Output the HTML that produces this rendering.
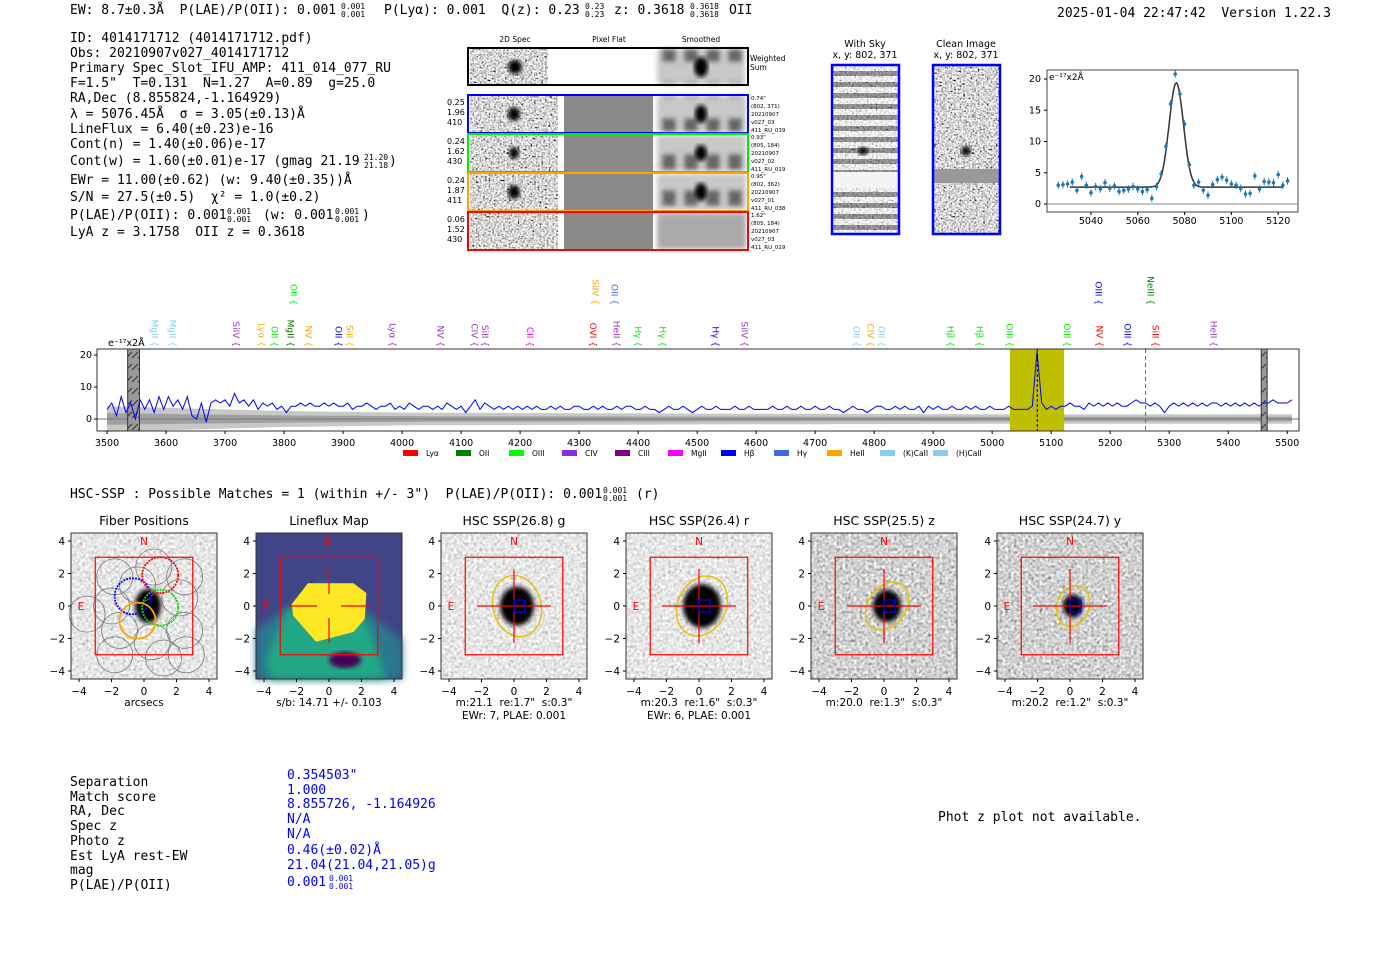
<!DOCTYPE html>
<html><head><meta charset="utf-8">
<style>
html,body{margin:0;padding:0;background:#fff;}
svg{display:block;}
text{white-space:pre;}
.m{font-family:"DejaVu Sans Mono","Liberation Mono",monospace;font-size:13px;fill:#000;}
.s{font-family:"DejaVu Sans","Liberation Sans",sans-serif;}
.sup{font-size:8px;}
</style></head>
<body>
<svg id="root" width="1400" height="953" viewBox="0 0 1400 953" xmlns="http://www.w3.org/2000/svg" xml:space="preserve">
<defs>
<filter id="nHi" x="0" y="0" width="100%" height="100%"><feTurbulence type="fractalNoise" baseFrequency="0.55" numOctaves="1" seed="3"/><feColorMatrix type="matrix" values="0.33 0.33 0.33 0 0 0.33 0.33 0.33 0 0 0.33 0.33 0.33 0 0 0 0 0 0 1"/><feComponentTransfer><feFuncR type="linear" slope="4" intercept="-1.3"/><feFuncG type="linear" slope="4" intercept="-1.3"/><feFuncB type="linear" slope="4" intercept="-1.3"/></feComponentTransfer></filter>
<filter id="nLo" x="0" y="0" width="100%" height="100%"><feTurbulence type="fractalNoise" baseFrequency="0.35" numOctaves="1" seed="7"/><feColorMatrix type="matrix" values="0.33 0.33 0.33 0 0 0.33 0.33 0.33 0 0 0.33 0.33 0.33 0 0 0 0 0 0 1"/><feComponentTransfer><feFuncR type="linear" slope="1.6" intercept="0"/><feFuncG type="linear" slope="1.6" intercept="0"/><feFuncB type="linear" slope="1.6" intercept="0"/></feComponentTransfer></filter>
<filter id="nMid" x="0" y="0" width="100%" height="100%"><feTurbulence type="fractalNoise" baseFrequency="0.35" numOctaves="1" seed="11"/><feColorMatrix type="matrix" values="0.33 0.33 0.33 0 0 0.33 0.33 0.33 0 0 0.33 0.33 0.33 0 0 0 0 0 0 1"/><feComponentTransfer><feFuncR type="linear" slope="2" intercept="-0.35"/><feFuncG type="linear" slope="2" intercept="-0.35"/><feFuncB type="linear" slope="2" intercept="-0.35"/></feComponentTransfer></filter>
<filter id="blur2"><feGaussianBlur stdDeviation="2.5"/></filter>
<filter id="blur4"><feGaussianBlur stdDeviation="4"/></filter>
<pattern id="stripes" width="10" height="11" patternUnits="userSpaceOnUse"><rect width="10" height="11" fill="#fff"/><rect y="5" width="10" height="5" fill="#555"/></pattern>
<pattern id="smooth" width="22" height="36" patternUnits="userSpaceOnUse"><rect width="22" height="36" fill="#c8c8c8"/><rect x="2" y="10" width="14" height="16" fill="#666"/></pattern>
<pattern id="hatch" width="6" height="12" patternUnits="userSpaceOnUse"><rect width="6" height="12" fill="#999"/><line x1="0" y1="10" x2="6" y2="4" stroke="#333" stroke-width="1"/></pattern>
</defs>

<g>
<text class="m" x="70" y="14">EW: 8.7±0.3Å  P(LAE)/P(OII): 0.001</text>
<text class="m sup" x="341" y="9">0.001</text><text class="m sup" x="341" y="17">0.001</text>
<text class="m" x="384" y="14">P(Lyα): 0.001  Q(z): 0.23</text>
<text class="m sup" x="585" y="9">0.23</text><text class="m sup" x="585" y="17">0.23</text>
<text class="m" x="614" y="14">z: 0.3618</text>
<text class="m sup" x="690" y="9">0.3618</text><text class="m sup" x="690" y="17">0.3618</text>
<text class="m" x="729" y="14">OII</text>
<text class="m" x="1057" y="17">2025-01-04 22:47:42  Version 1.22.3</text>
</g>

<g>
<text class="m" x="70" y="42">ID: 4014171712 (4014171712.pdf)</text>
<text class="m" x="70" y="57">Obs: 20210907v027_4014171712</text>
<text class="m" x="70" y="72">Primary Spec_Slot_IFU_AMP: 411_014_077_RU</text>
<text class="m" x="70" y="87">F=1.5"  T=0.131  N=1.27  A=0.89  g=25.0</text>
<text class="m" x="70" y="102">RA,Dec (8.855824,-1.164929)</text>
<text class="m" x="70" y="118">λ = 5076.45Å  σ = 3.05(±0.13)Å</text>
<text class="m" x="70" y="133">LineFlux = 6.40(±0.23)e-16</text>
<text class="m" x="70" y="148">Cont(n) = 1.40(±0.06)e-17</text>
<text class="m" x="70" y="165">Cont(w) = 1.60(±0.01)e-17 (gmag 21.19</text>
<text class="m sup" x="364" y="160">21.20</text><text class="m sup" x="364" y="168">21.18</text>
<text class="m" x="389" y="165">)</text>
<text class="m" x="70" y="184">EWr = 11.00(±0.62) (w: 9.40(±0.35))Å</text>
<text class="m" x="70" y="201">S/N = 27.5(±0.5)  χ² = 1.0(±0.2)</text>
<text class="m" x="70" y="219">P(LAE)/P(OII): 0.001</text>
<text class="m sup" x="227" y="214">0.001</text><text class="m sup" x="227" y="222">0.001</text>
<text class="m" x="263" y="219">(w: 0.001</text>
<text class="m sup" x="335" y="214">0.001</text><text class="m sup" x="335" y="222">0.001</text>
<text class="m" x="362" y="219">)</text>
<text class="m" x="70" y="236">LyA z = 3.1758  OII z = 0.3618</text>
</g>

<g class="s" font-size="7.5">
<text x="515" y="42" text-anchor="middle">2D Spec</text>
<text x="609" y="42" text-anchor="middle">Pixel Flat</text>
<text x="701" y="42" text-anchor="middle">Smoothed</text>
<g>
<rect x="468" y="48" width="280" height="37" fill="#fff"/>
<rect x="470" y="49" width="78" height="35" fill="#888" filter="url(#nHi)"/>
<ellipse cx="515" cy="67" rx="7" ry="7" fill="#000" filter="url(#blur2)"/>
<rect x="657" y="49" width="88" height="35" fill="url(#smooth)" filter="url(#blur2)"/>
<ellipse cx="701" cy="67" rx="7" ry="10" fill="#000" filter="url(#blur2)"/>
<rect x="468" y="48" width="280" height="37" fill="none" stroke="#000" stroke-width="2"/>
<text x="750" y="61">Weighted</text><text x="750" y="70">Sum</text>
</g>
<g id="cutRows"></g>
</g>

<g class="s" font-size="9.5">
<text x="865" y="47" text-anchor="middle">With Sky</text>
<text x="865" y="58" text-anchor="middle">x, y: 802, 371</text>
<rect x="832" y="65" width="67" height="169" fill="url(#stripes)"/>
<rect x="832" y="65" width="67" height="169" fill="#888" filter="url(#nHi)" opacity="0.45"/>
<rect x="832" y="172" width="67" height="16" fill="#f4f4f4"/>
<ellipse cx="863" cy="151" rx="5" ry="4" fill="#000" filter="url(#blur2)"/>
<rect x="832" y="65" width="67" height="169" fill="none" stroke="#0000ff" stroke-width="2.5"/>
</g>
<g class="s" font-size="9.5">
<text x="966" y="47" text-anchor="middle">Clean Image</text>
<text x="966" y="58" text-anchor="middle">x, y: 802, 371</text>
<rect x="933" y="65" width="67" height="169" fill="#888" filter="url(#nHi)"/>
<rect x="933" y="169" width="67" height="14" fill="#999"/>
<ellipse cx="966" cy="151" rx="5" ry="5" fill="#000" filter="url(#blur2)"/>
<rect x="933" y="65" width="67" height="169" fill="none" stroke="#0000ff" stroke-width="2.5"/>
</g>

<g id="fitPanel" class="s" font-size="9.5"></g>
<g id="specPanel" class="s" font-size="9.5"></g>

<g>
<text class="m" x="70" y="498">HSC-SSP : Possible Matches = 1 (within +/- 3")  P(LAE)/P(OII): 0.001</text>
<text class="m sup" x="603" y="493">0.001</text><text class="m sup" x="603" y="501">0.001</text>
<text class="m" x="636" y="498">(r)</text>
</g>
<g id="hscPanels"></g>

<g>
<text class="m" x="70" y="786">Separation</text>
<text class="m" x="70" y="801">Match score</text>
<text class="m" x="70" y="815">RA, Dec</text>
<text class="m" x="70" y="830">Spec z</text>
<text class="m" x="70" y="845">Photo z</text>
<text class="m" x="70" y="860">Est LyA rest-EW</text>
<text class="m" x="70" y="874">mag</text>
<text class="m" x="70" y="889">P(LAE)/P(OII)</text>
<g>
<text class="m" x="287" y="779" style="fill:#0000ff">0.354503"</text>
<text class="m" x="287" y="794" style="fill:#0000ff">1.000</text>
<text class="m" x="287" y="808" style="fill:#0000ff">8.855726, -1.164926</text>
<text class="m" x="287" y="823" style="fill:#0000ff">N/A</text>
<text class="m" x="287" y="838" style="fill:#0000ff">N/A</text>
<text class="m" x="287" y="854" style="fill:#0000ff">0.46(±0.02)Å</text>
<text class="m" x="287" y="869" style="fill:#0000ff">21.04(21.04,21.05)g</text>
<text class="m" x="287" y="886" style="fill:#0000ff">0.001</text>
<text class="m sup" x="329" y="881" style="fill:#0000ff">0.001</text>
<text class="m sup" x="329" y="889" style="fill:#0000ff">0.001</text>
</g>
</g>
<text class="m" x="938" y="821">Phot z plot not available.</text>
</svg>

<script>
const specStart = 3500;
const specStep = 8;
const specFlux = [
3,5,1,7,2,5,0,6,3,6,
2,7,3,7,4,6,3,7,1,0,
5,-1,5,6,5,6,4,8,5,6,
4,6,3,5,4,5,3,4,2,4,
4,5,4,5,4,4,5,4,5,4,
4,5,3,4,4,5,4,3,4,4,
5,3,4,3,5,4,3,4,4,3,
4,3,5,4,3,4,2,4,6,3,
5,4,3,4,3,4,3,4,3,4,
3,4,3,3,4,3,4,3,3,4,
4,3,3,4,3,4,3,3,4,3,
4,4,3,3,4,3,3,2,3,4,
3,3,4,3,2,3,4,3,3,4,
3,3,3,4,3,3,4,3,3,3,
3,4,3,3,4,3,3,4,3,3,
4,3,3,4,3,3,2,3,4,3,
3,2,3,4,4,3,3,4,3,4,
3,3,4,2,4,3,4,3,3,4,
3,3,4,3,4,3,3,4,3,3,
3,4,3,3,3,3,4,21,5,3,
4,3,4,4,5,4,4,3,5,4,
5,4,5,4,5,4,4,5,6,5,
5,4,5,4,2,4,5,4,5,4,
5,4,5,4,5,5,4,5,4,5,
4,5,4,5,4,5,5,6,5,5,
5,6,5];
const errWave = [3500,3600,3700,3800,4000,4500,5000,5500];
const errVal = [4,3.5,3,2.5,2,1.7,1.5,1.5];
const specXTicks = [3500,3600,3700,3800,3900,4000,4100,4200,4300,4400,4500,4600,4700,4800,4900,5000,5100,5200,5300,5400,5500];
const specYTicks = [0,10,20];
const lineWave = [3581,3612,3719,3763,3785,3812,3842,3893,3912,3985,4066,4124,4141,4218,4324,4364,4401,4442,4532,4581,4771,4795,4813,4930,4979,5030,5128,5183,5230,5278,5376,3817,4329,4361,5181,5269];
const lineName = ["MgII","MgII","SiIV","Lyα","OII","MgII","NV","OII","SiII","Lyα","NV","CIV","SiII","CII","OVI","HeII","Hγ","Hγ","Hγ","SiIV","OII","CIV","OII","Hβ","Hβ","OIII","OIII","NV","OIII","SiII","HeII","OII","SiIV","OII","OIII","NeIII"];
const lineColor = ["#87ceeb","#87ceeb","#9932cc","#ffa500","#00ee00","#007700","#ffa500","#0000ff","#ffa500","#9932cc","#9932cc","#9932cc","#9932cc","#ff00ff","#ff0000","#9932cc","#00ee00","#00ee00","#0000ff","#9932cc","#87ceeb","#ffa500","#87ceeb","#00ee00","#00ee00","#00ee00","#00ee00","#ff0000","#0000ff","#ff0000","#9932cc","#00ee00","#ffa500","#4169e1","#0000ff","#008000"];
const lineRow = [0,0,0,0,0,0,0,0,0,0,0,0,0,0,0,0,0,0,0,0,0,0,0,0,0,0,0,0,0,0,0,1,1,1,1,1];
const legendNames = ["Lyα","OII","OIII","CIV","CIII","MgII","Hβ","Hγ","HeII","(K)CaII","(H)CaII"];
const legendColors = ["#ff0000","#008000","#00ff00","#8a2be2","#800080","#ff00ff","#0000ff","#4169e1","#ffa500","#87ceeb","#87ceeb"];
const maskWave = [[3535,3555],[5456,5466]];
const fitWindow = [5030,5122];

const fitWave = [5026,5028,5030,5032,5034,5036,5038,5040,5042,5044,5046,5048,5050,5052,5054,5056,5058,5060,5062,5064,5066,5068,5070,5072,5074,5076,5078,5080,5082,5084,5086,5088,5090,5092,5094,5096,5098,5100,5102,5104,5106,5108,5110,5112,5114,5116,5118,5120,5122,5124];
const fitFlux = [3.0,3.1,3.2,3.5,2.2,4.4,3.0,1.8,2.8,2.4,3.4,2.5,2.9,2.0,2.2,2.4,2.8,2.4,2.0,2.3,0.9,2.8,4.8,9.2,16.0,20.8,17.6,12.8,6.3,3.0,3.5,2.2,1.4,3.1,3.9,4.3,3.8,3.2,3.0,2.5,1.6,1.7,4.5,2.4,3.6,3.5,3.4,4.7,3.0,3.7];
const fitErr = 0.6;
const fitParams = [5076.45, 3.05, 16.7, 2.7];
const fitXTicks = [5040,5060,5080,5100,5120];
const fitYTicks = [0,5,10,15,20];

const NS = "http://www.w3.org/2000/svg";
function mk(parent, tag, attrs, txt){
  const e = document.createElementNS(NS, tag);
  for (const k in attrs) e.setAttribute(k, attrs[k]);
  if (txt !== undefined) e.textContent = txt;
  parent.appendChild(e);
  return e;
}

(function(){
  const g = document.getElementById('cutRows');
  const rowsY = [95,134,173,212];
  const cols = ["#0000ff","#00ee00","#ffa500","#ff0000"];
  const left = [["0.25","1.96","410"],["0.24","1.62","430"],["0.24","1.87","411"],["0.06","1.52","430"]];
  const right = [["0.74\"","(802, 371)","20210907","v027_03","411_RU_039"],["0.93\"","(805, 184)","20210907","v027_02","411_RU_019"],["0.95\"","(802, 362)","20210907","v027_01","411_RU_038"],["1.62\"","(805, 184)","20210907","v027_03","411_RU_019"]];
  const blob = [7,6,7,2];
  rowsY.forEach((y,i)=>{
    const r = mk(g,'g',{});
    
    
    mk(r,'rect',{x:468,y:y,width:280,height:38,fill:'#fff'});
    mk(r,'rect',{x:470,y:y+1,width:88,height:36,fill:'#888',filter:'url(#nHi)'});
    if (blob[i]>3) mk(r,'ellipse',{cx:514,cy:y+19,rx:blob[i]-1,ry:blob[i],fill:'#000',filter:'url(#blur2)'});
    mk(r,'rect',{x:564,y:y+1,width:89,height:36,fill:'#8a8a8a'});
    mk(r,'rect',{x:657,y:y+1,width:89,height:36,fill:(i===3?'#aaa':'url(#smooth)'),filter:'url(#blur2)'});
    if (blob[i]>3) mk(r,'ellipse',{cx:701,cy:y+19,rx:6,ry:blob[i]+2,fill:'#000',filter:'url(#blur2)'});
    mk(r,'rect',{x:468,y:y,width:280,height:38,fill:'none',stroke:cols[i],'stroke-width':2});
    left[i].forEach((t,j)=>mk(r,'text',{x:447,y:y+10+j*10,'font-size':8},t));
    right[i].forEach((t,j)=>mk(r,'text',{x:751,y:y+5+j*8,'font-size':5.5},t));
  });
})();

(function(){
  const g = document.getElementById('fitPanel');
  const X = w => 1047 + (w - 5021.2) * 2.34;
  const Y = v => 204 - v * 6.25;
  mk(g,'rect',{x:1047,y:70,width:251,height:142,fill:'#fff',stroke:'#444'});
  mk(g,'line',{x1:1047,x2:1298,y1:Y(0),y2:Y(0),stroke:'#888'});
  fitXTicks.forEach(t=>{ mk(g,'line',{x1:X(t),x2:X(t),y1:212,y2:215,stroke:'#000'}); mk(g,'text',{x:X(t),y:224,'text-anchor':'middle'},t); });
  fitYTicks.forEach(t=>{ mk(g,'line',{x1:1044,x2:1047,y1:Y(t),y2:Y(t),stroke:'#000'}); mk(g,'text',{x:1041,y:Y(t)+3,'text-anchor':'end'},t); });
  mk(g,'text',{x:1049,y:80,'font-size':9},'e⁻¹⁷x2Å');
  const [c,s,a,b] = fitParams;
  let d = '';
  for (let w = fitWindow[0]+1; w <= fitWindow[1]; w += 0.5){
    const v = b + a*Math.exp(-0.5*((w-c)/s)**2);
    d += (d?'L':'M') + X(w).toFixed(1) + ' ' + Y(v).toFixed(1);
  }
  const p = mk(g,'path',{d:d,fill:'none',stroke:'#333','stroke-width':1.5});
  
  
  fitWave.forEach((w,i)=>{
    const pt = mk(g,'g',{});
    
    
    mk(pt,'line',{x1:X(w),x2:X(w),y1:Y(fitFlux[i]-fitErr),y2:Y(fitFlux[i]+fitErr),stroke:'#1f77b4','stroke-width':1});
    mk(pt,'circle',{cx:X(w),cy:Y(fitFlux[i]),r:1.8,fill:'#1f77b4'});
  });
})();

(function(){
  const g = document.getElementById('specPanel');
  const X = w => 97 + (w - 3483) * (1202/2037);
  const Y = v => 419 - v * 3.2;
  mk(g,'rect',{x:97,y:349,width:1202,height:82,fill:'#fff'});
  const errAt = w => { for (let i=0;i<errWave.length-1;i++){ if (w<=errWave[i+1]) { const f=(w-errWave[i])/(errWave[i+1]-errWave[i]); return errVal[i]+f*(errVal[i+1]-errVal[i]); } } return errVal[errVal.length-1]; };
  const pts=[];
  for (let i=0;i<specFlux.length;i++){ const w=specStart+i*specStep; if (w>5510) break; pts.push(w); }
  const band = (k,col,name) => {
    let d='';
    pts.forEach((w,i)=>{ d+=(i?'L':'M')+X(w).toFixed(1)+' '+Y(errAt(w)*k).toFixed(1); });
    for (let i=pts.length-1;i>=0;i--) d+='L'+X(pts[i]).toFixed(1)+' '+Y(-errAt(pts[i])*k).toFixed(1);
    const p = mk(g,'path',{d:d+'Z',fill:col});
    
    
  };
  band(1,'#c8c8c8','error-band-outer');
  band(0.45,'#a0a0a0','error-band-inner');
  mk(g,'line',{x1:97,x2:1299,y1:Y(0),y2:Y(0),stroke:'#777','stroke-width':1});
  const fw = mk(g,'rect',{x:X(fitWindow[0]),y:349,width:X(fitWindow[1])-X(fitWindow[0]),height:82,fill:'#bfbf00'});
  
  
  maskWave.forEach(m=>{
    const r = mk(g,'rect',{x:X(m[0]),y:349,width:X(m[1])-X(m[0]),height:82,fill:'url(#hatch)',stroke:'#333'});
    
    
  });
  let d='';
  pts.forEach((w,i)=>{ d+=(i?'L':'M')+X(w).toFixed(1)+' '+Y(specFlux[i]).toFixed(1); });
  const sp = mk(g,'path',{d:d,fill:'none',stroke:'#0000ff','stroke-width':1});
  
  
  mk(g,'line',{x1:X(fitParams[0]),x2:X(fitParams[0]),y1:349,y2:431,stroke:'#000','stroke-dasharray':'3,2'});
  mk(g,'line',{x1:X(5260),x2:X(5260),y1:349,y2:431,stroke:'#666','stroke-dasharray':'4,3'});
  mk(g,'rect',{x:97,y:349,width:1202,height:82,fill:'none',stroke:'#333'});
  specXTicks.forEach(t=>{ mk(g,'line',{x1:X(t),x2:X(t),y1:431,y2:434,stroke:'#000'}); mk(g,'text',{x:X(t),y:446,'text-anchor':'middle'},t); });
  specYTicks.forEach(t=>{ mk(g,'line',{x1:94,x2:97,y1:Y(t),y2:Y(t),stroke:'#000'}); mk(g,'text',{x:92,y:Y(t)+3,'text-anchor':'end'},t); });
  mk(g,'text',{x:108,y:346,'font-size':9.5},'e⁻¹⁷x2Å');
  lineWave.forEach((w,i)=>{
    const x = X(w), yEnd = lineRow[i] ? 305 : 347;
    const t = mk(g,'text',{x:0,y:0,transform:`translate(${x-3.5},${yEnd}) rotate(90)`,'text-anchor':'end',fill:lineColor[i],'font-size':9}, lineName[i]+' {');
    
    
  });
  legendNames.forEach((n,i)=>{
    const x = 403 + i*53;
    const lg = mk(g,'g',{});
    
    
    mk(lg,'rect',{x:x,y:450,width:15,height:6,fill:legendColors[i]});
    mk(lg,'text',{x:x+23,y:456,'font-size':7.5},n);
  });
})();

(function(){
  const root = document.getElementById('hscPanels');
  const lefts = [71,256,441,626,811,997];
  const titles = ["Fiber Positions","Lineflux Map","HSC SSP(26.8) g","HSC SSP(26.4) r","HSC SSP(25.5) z","HSC SSP(24.7) y"];
  const cap1 = ["arcsecs","s/b: 14.71 +/- 0.103","m:21.1  re:1.7\"  s:0.3\"","m:20.3  re:1.6\"  s:0.3\"","m:20.0  re:1.3\"  s:0.3\"","m:20.2  re:1.2\"  s:0.3\""];
  const cap2 = ["","","EWr: 7, PLAE: 0.001","EWr: 6, PLAE: 0.001","",""];
  const blobR = [0,0,17,19,14,10];
  const ell = [[0,0,0],[0,0,0],[24,31,-15],[24,31,25],[19,26,35],[16,21,20]];
  lefts.forEach((L,i)=>{
    const g = mk(root,'g',{'class':'s','font-size':10.5});
    
    
    const cx = L+73, cy = 606, u = 16.25;
    mk(g,'text',{x:cx,y:525,'text-anchor':'middle','font-size':12.5},titles[i]);
    if (i===1){
      mk(g,'rect',{x:L,y:533,width:146,height:146,fill:'#414487'});
      mk(g,'polygon',{points:`${L},${630} ${L+70},${580} ${L+146},${640} ${L+146},${679} ${L},${679}`,fill:'#2a788e',filter:'url(#blur4)'});
      mk(g,'polygon',{points:`${L+10},${660} ${L+30},${610} ${L+110},${620} ${L+130},${679} ${L+15},${679}`,fill:'#22a884',filter:'url(#blur4)'});
      mk(g,'ellipse',{cx:cx+16,cy:660,rx:16,ry:8,fill:'#440154',filter:'url(#blur2)'});
      const yp = [[-2.3,0.1],[-1.3,1.4],[1.5,1.4],[2.3,0.8],[2.2,-0.8],[1.5,-1.6],[-0.8,-2.2],[-2.2,-0.6]];
      mk(g,'polygon',{points:yp.map(p=>`${cx+p[0]*u},${cy-p[1]*u}`).join(' '),fill:'#fde725'});
    } else {
      mk(g,'rect',{x:L,y:533,width:146,height:146,fill:'#bbb',filter:(i>=4?'url(#nMid)':'url(#nLo)')});
      if (i===0){
        mk(g,'ellipse',{cx:cx+4,cy:cy,rx:13,ry:17,fill:'#000',filter:'url(#blur2)'});
        const fib = [[-1.8,1.8],[-2,0],[-3.5,-0.5],[-1.5,-1.5],[-1.8,-3],[0.5,-2.2],[1.2,-3.2],[2.5,-1.5],[2.6,-3],[2.2,0.5],[2.5,1.8],[0.6,2.4],[-0.4,1.3]];
        fib.forEach(f=>mk(g,'circle',{cx:cx+f[0]*u,cy:cy-f[1]*u,r:18,fill:'none',stroke:'#777','stroke-width':0.8}));
        [[-0.7,0.6,'#0000ff'],[1.0,1.9,'#ff0000'],[1.0,-0.1,'#00dd00'],[-0.4,-0.9,'#ffa500']].forEach(f=>mk(g,'circle',{cx:cx+f[0]*u,cy:cy-f[1]*u,r:18,fill:'none',stroke:f[2],'stroke-width':1.8,'stroke-dasharray':f[2]==='#ffa500'?'':'2,1'}));
      } else {
        mk(g,'ellipse',{cx:cx+3,cy:cy,rx:blobR[i],ry:blobR[i]*1.15,fill:'#000',filter:'url(#blur2)'});
        mk(g,'ellipse',{cx:cx+3,cy:cy,rx:ell[i][0],ry:ell[i][1],transform:`rotate(${ell[i][2]} ${cx+3} ${cy})`,fill:'none',stroke:'#e6c200','stroke-width':1.5});
        mk(g,'line',{x1:cx-37,x2:cx+37,y1:cy,y2:cy,stroke:'#ff0000','stroke-width':1.2});
        mk(g,'line',{x1:cx,x2:cx,y1:cy-37,y2:cy+37,stroke:'#ff0000','stroke-width':1.2});
        mk(g,'rect',{x:cx,y:cy-6,width:11,height:12,fill:'none',stroke:'#0000ff','stroke-width':1.3});
      }
    }
    if (i===1){
      mk(g,'line',{x1:cx-40,x2:cx-12,y1:cy,y2:cy,stroke:'#ff0000','stroke-width':1.2});
      mk(g,'line',{x1:cx+12,x2:cx+40,y1:cy,y2:cy,stroke:'#ff0000','stroke-width':1.2});
      mk(g,'line',{x1:cx,x2:cx,y1:cy-37,y2:cy-12,stroke:'#ff0000','stroke-width':1.2});
      mk(g,'line',{x1:cx,x2:cx,y1:cy+12,y2:cy+37,stroke:'#ff0000','stroke-width':1.2});
    }
    mk(g,'rect',{x:cx-3*u,y:cy-3*u,width:6*u,height:6*u,fill:'none',stroke:'#ff0000','stroke-width':1.2});
    mk(g,'text',{x:cx,y:545,'text-anchor':'middle',fill:'#ff0000'},'N');
    mk(g,'text',{x:L+10,y:610,'text-anchor':'middle',fill:'#ff0000'},'E');
    mk(g,'rect',{x:L,y:533,width:146,height:146,fill:'none',stroke:'#333'});
    [-4,-2,0,2,4].forEach(t=>{
      mk(g,'line',{x1:cx+t*u,x2:cx+t*u,y1:679,y2:682,stroke:'#000'});
      mk(g,'text',{x:cx+t*u,y:695,'text-anchor':'middle'},(t<0?'−':'')+Math.abs(t));
      mk(g,'line',{x1:L-3,x2:L,y1:cy-t*u,y2:cy-t*u,stroke:'#000'});
      mk(g,'text',{x:L-6,y:cy-t*u+4,'text-anchor':'end'},(t<0?'−':'')+Math.abs(t));
    });
    mk(g,'text',{x:cx,y:706,'text-anchor':'middle'},cap1[i]);
    if (cap2[i]) mk(g,'text',{x:cx,y:719,'text-anchor':'middle'},cap2[i]);
  });
})();
</script>
</body></html>
